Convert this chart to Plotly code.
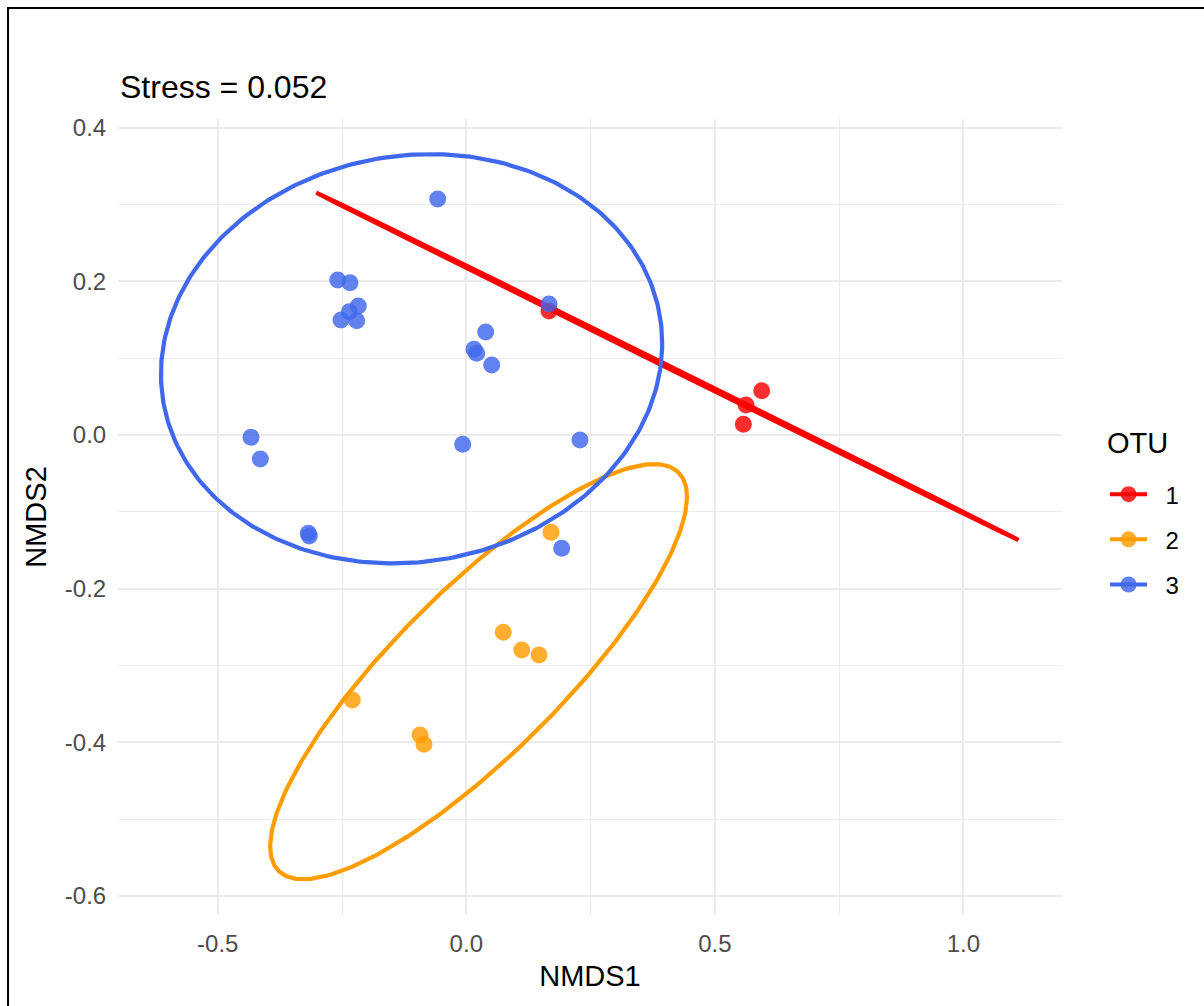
import numpy as np
import plotly.graph_objects as go

# NMDS site scores, grouped by OTU cluster
otu1_x = [0.1664, 0.5943, 0.5627, 0.5573]
otu1_y = [0.1614, 0.0577, 0.0390, 0.0139]

otu2_x = [0.1704, 0.0744, 0.1115, 0.1463, -0.2293, -0.0931, -0.0851]
otu2_y = [-0.1267, -0.2568, -0.2798, -0.2863, -0.3449, -0.3905, -0.4026]

otu3_x = [-0.0575, -0.2587, -0.2340, -0.2173, -0.2354, -0.2521, -0.2205, 0.0390, 0.0155, 0.0209,
          0.0511, -0.4331, -0.4144, -0.0072, -0.3179, -0.3158, 0.1664, 0.2287, 0.1919]
otu3_y = [0.3072, 0.2017, 0.1982, 0.1679, 0.1605, 0.1497, 0.1488, 0.1341, 0.1115, 0.1063,
          0.0911, -0.0030, -0.0312, -0.0121, -0.1279, -0.1315, 0.1705, -0.0065, -0.1475]

# 95% confidence ellipses: centre and shape matrix (sxx, sxy, syy) per OTU
ellipse_cx = [0.4045, 0.0247, -0.1101]
ellipse_cy = [0.0894, -0.3081, 0.0992]
ellipse_sxx = [0.49914, 0.17576, 0.25421]
ellipse_sxy = [-0.15973, 0.09535, 0.01009]
ellipse_syy = [0.05112, 0.07299, 0.07096]

otu_labels = ["1", "2", "3"]
stress = 0.052

x_ticks = [-0.5, 0.0, 0.5, 1.0]
x_ticktext = ["-0.5", "0.0", "0.5", "1.0"]
y_ticks = [-0.6, -0.4, -0.2, 0.0, 0.2, 0.4]
y_ticktext = ["-0.6", "-0.4", "-0.2", "0.0", "0.2", "0.4"]

line_colors = ["#FF0000", "#FF9C00", "#3F68EC"]
FONT = "Liberation Sans, Arial, sans-serif"
NBSP = "\u00a0"


def ellipse_path(cx, cy, sxx, sxy, syy, n=361):
    S = np.array([[sxx, sxy], [sxy, syy]])
    w, V = np.linalg.eigh(S)
    L = V @ np.diag(np.sqrt(np.clip(w, 0, None)))
    t = np.linspace(0, 2 * np.pi, n)
    P = L @ np.vstack([np.cos(t), np.sin(t)])
    return cx + P[0], cy + P[1]


fig = go.Figure()
groups = [(otu1_x, otu1_y), (otu2_x, otu2_y), (otu3_x, otu3_y)]

# ellipses first, points on top
for i, lab in enumerate(otu_labels):
    ex, ey = ellipse_path(ellipse_cx[i], ellipse_cy[i], ellipse_sxx[i], ellipse_sxy[i], ellipse_syy[i])
    fig.add_trace(go.Scatter(x=ex, y=ey, mode="lines", line=dict(color=line_colors[i], width=4.2),
                             legendgroup=lab, showlegend=False, hoverinfo="skip"))

for i, lab in enumerate(otu_labels):
    gx, gy = groups[i]
    fig.add_trace(go.Scatter(x=gx, y=gy, mode="markers", name=lab, legendgroup=lab, showlegend=False,
                             marker=dict(color=line_colors[i], size=17, opacity=0.82, line=dict(width=0))))

# legend keys: line plus point, as in a combined colour guide
for i, lab in enumerate(otu_labels):
    fig.add_trace(go.Scatter(x=[None], y=[None], mode="lines+markers", name=NBSP * 2 + lab, legendgroup=lab,
                             line=dict(color=line_colors[i], width=4),
                             marker=dict(color=line_colors[i], size=16, opacity=0.82)))

axis_common = dict(showgrid=True, gridcolor="#EBEBEB", gridwidth=2, zeroline=False, showline=False,
                   ticks="outside", tickcolor="rgba(0,0,0,0)",
                   tickfont=dict(family=FONT, size=24, color="#4D4D4D"),
                   title_font=dict(family=FONT, size=29, color="black"))

fig.update_xaxes(range=[-0.7007, 1.1984], tickvals=x_ticks, ticktext=x_ticktext, ticklen=7,
                 minor=dict(dtick=0.25, tick0=0, showgrid=True, gridcolor="#EBEBEB", gridwidth=1.2, ticks=""),
                 title_text="NMDS1", title_standoff=9, **axis_common)
fig.update_yaxes(range=[-0.6248, 0.4113], tickvals=y_ticks, ticktext=y_ticktext, ticklen=6,
                 minor=dict(dtick=0.1, tick0=0, showgrid=True, gridcolor="#EBEBEB", gridwidth=1.2, ticks=""),
                 title_text="NMDS2", title_standoff=9, **axis_common)

fig.update_layout(
    width=1204, height=1006,
    margin=dict(l=118, r=142, t=119, b=91),
    plot_bgcolor="white", paper_bgcolor="white",
    font=dict(family=FONT, color="black"),
    legend=dict(font=dict(family=FONT, size=24, color="black"),
                x=1.0456, xanchor="left", y=0.5565, yanchor="top",
                itemwidth=37, tracegroupgap=11, bgcolor="rgba(0,0,0,0)"),
    showlegend=True,
)

# legend title
fig.add_annotation(text="OTU", xref="paper", yref="paper", x=1.0456, y=(915 - 442.5) / 796,
                   xanchor="left", yanchor="middle", showarrow=False,
                   font=dict(family=FONT, size=29, color="black"))

fig.add_annotation(text="Stress = %.3f" % stress, xref="paper", yref="paper", x=0, y=1.0,
                   xanchor="left", yanchor="bottom", yshift=12, showarrow=False,
                   font=dict(family=FONT, size=32, color="black"))

# outer frame
fig.add_shape(type="rect", xref="paper", yref="paper", x0=-0.1165, x1=1.2013, y0=-0.3, y1=1.1394,
              line=dict(color="black", width=2), fillcolor="rgba(0,0,0,0)", layer="above")

fig.write_html("out.html")
